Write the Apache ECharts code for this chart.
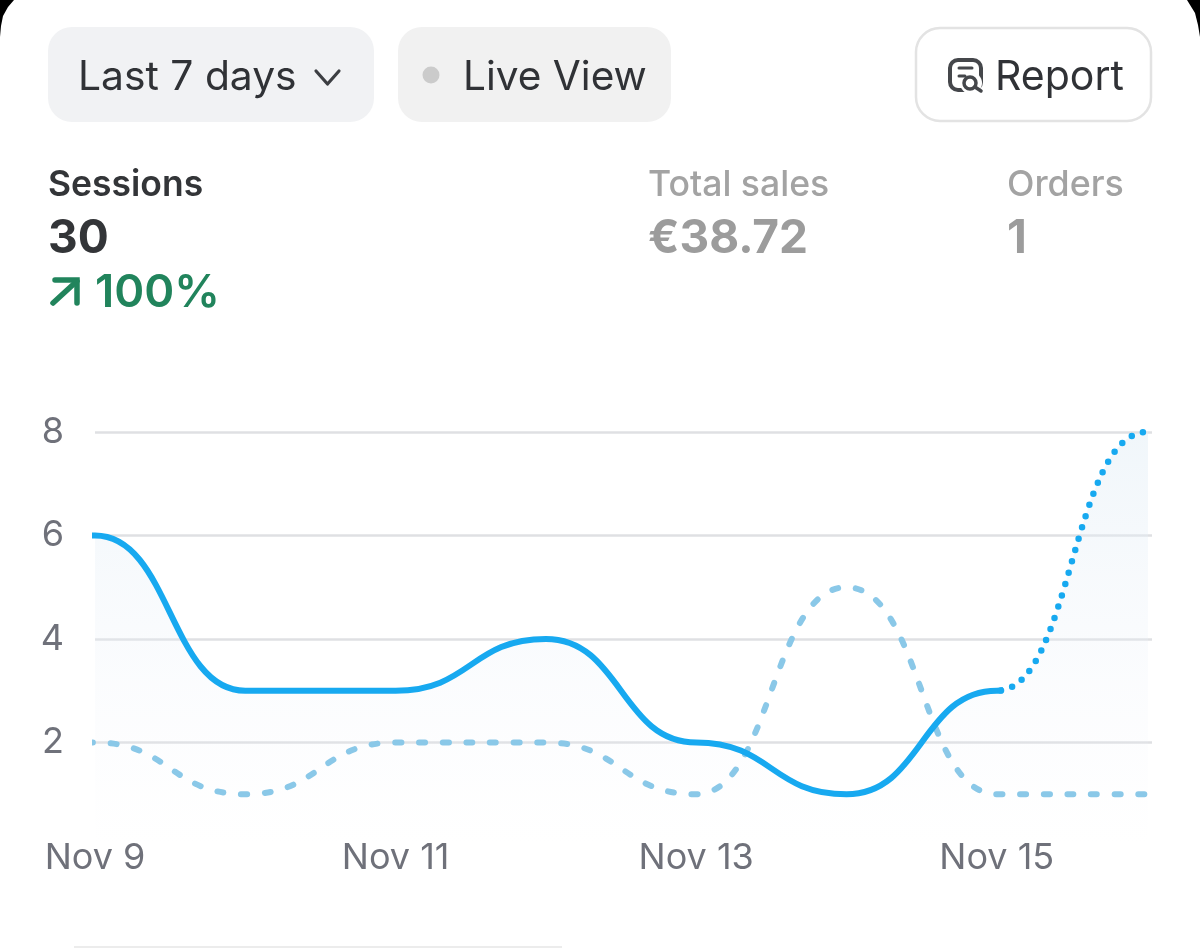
<!DOCTYPE html>
<html>
<head>
<meta charset="utf-8">
<style>html,body{margin:0;padding:0;background:#fff}#c{width:1200px;height:948px}</style>
<script src="https://cdn.jsdelivr.net/npm/echarts@6/dist/echarts.min.js"></script>
</head>
<body>
<div id="c"></div>
<script>
const dayLabels = ['Nov 9','Nov 10','Nov 11','Nov 12','Nov 13','Nov 14','Nov 15','Nov 16'];
const sessions = [6,3,3,4,2,1,3,8];
const previous = [2,1,2,2,1,5,1,1];
const yTicks = [0,2,4,6,8];
const lastCompleteDay = 6;

const FONT = 'Inter';
// The end values are repeated just outside the clipped axis range so the curve leaves and reaches them flat.
const toPairs = arr => [[-1,arr[0]]].concat(arr.map((v,i)=>[i,v]),[[arr.length,arr[arr.length-1]]]);
const areaFill = {
  color:{type:'linear',x:0,y:0,x2:0,y2:1,colorStops:[
    {offset:0,color:'rgba(226,238,246,0.5)'},
    {offset:1,color:'rgba(240,242,250,0)'}]},
  opacity:1
};
function txt(x,y,text,size,weight,fill){
  return {type:'text',x:x,y:y,z:10,
    style:{text:text,fontFamily:FONT,fontSize:size,fontWeight:weight,fill:fill,textVerticalAlign:'middle',textAlign:'left'}};
}
function box(x,y,w,h,r,fill,stroke,lw){
  return {type:'rect',z:5,shape:{x:x,y:y,width:w,height:h,r:r},
    style:{fill:fill,stroke:stroke||null,lineWidth:lw||0}};
}
const ui = [
  {type:'polygon',z:20,shape:{points:[[0,0],[14,0],[8,7],[3,16],[1,26],[0,37]]},style:{fill:'#000'}},
  {type:'polygon',z:20,shape:{points:[[1187,0],[1200,0],[1200,37],[1198,25],[1195,13]]},style:{fill:'#000'}},
  box(48,27,326,95,24,'#f1f2f4'),
  box(398,27,273,95,24,'#f1f1f1'),
  box(916,28,235,93,24,'#fff','#e3e3e3',2.5),
  txt(78,78,'Last 7 days',40.8,400,'#303236'),
  {type:'polyline',z:10,shape:{points:[[316,71],[327.5,84],[339,71]]},style:{fill:null,stroke:'#3c3e42',lineWidth:3.2,lineCap:'round',lineJoin:'round'}},
  {type:'circle',z:10,shape:{cx:431,cy:75,r:8.5},style:{fill:'#cbcbcb'}},
  txt(463,78,'Live View',40.6,400,'#303236'),
  {type:'rect',z:10,shape:{x:950,y:60,width:31,height:30,r:8},style:{fill:null,stroke:'#45474b',lineWidth:4}},
  {type:'circle',z:11,shape:{cx:971,cy:83,r:11},style:{fill:'#fff'}},
  {type:'circle',z:12,shape:{cx:970,cy:83,r:6},style:{fill:'#fff',stroke:'#45474b',lineWidth:3.5}},
  {type:'line',z:12,shape:{x1:975,y1:87,x2:981,y2:91},style:{stroke:'#45474b',lineWidth:3.5,lineCap:'round'}},
  {type:'line',z:12,shape:{x1:959,y1:68,x2:972,y2:68},style:{stroke:'#45474b',lineWidth:3,lineCap:'round'}},
  {type:'line',z:12,shape:{x1:959,y1:76,x2:965,y2:76},style:{stroke:'#45474b',lineWidth:3,lineCap:'round'}},
  txt(995,78,'Report',41,400,'#303236'),
  txt(48,185,'Sessions',35.5,600,'#333538'),
  txt(48,239,'30',46,700,'#333538'),
  {type:'polyline',z:10,shape:{points:[[53,303],[77,281]]},style:{fill:null,stroke:'#21845c',lineWidth:5.5,lineCap:'round'}},
  {type:'polyline',z:10,shape:{points:[[55,280],[77,280],[77,303]]},style:{fill:null,stroke:'#21845c',lineWidth:5.5,lineCap:'round',lineJoin:'miter'}},
  txt(95,293,'100%',45.5,600,'#21845c'),
  txt(648,185,'Total sales',35.6,500,'#a3a3a3'),
  txt(648,239,'€38.72',46,700,'#9c9c9c'),
  txt(1007,185,'Orders',35.8,500,'#a3a3a3'),
  txt(1007,239,'1',46,700,'#9c9c9c'),
  box(74,946,488,3,0,'#ececec')
];

const UNIT = 150.3, LEFT = 95, RIGHT = 48, TOP = 432, BOTTOM = 948-846;
const xMaxAll = (1200-RIGHT-LEFT)/UNIT;
const splitAt = lastCompleteDay + 0.02;
const rightOfLast = 1200-(LEFT+7*UNIT);
const hiddenY = i => ({gridIndex:i,type:'value',min:0,max:8,interval:2,show:false,splitLine:{show:false}});
const hiddenX = (i,a,b) => ({gridIndex:i,type:'value',min:a,max:b,show:false,splitLine:{show:false}});

const option = {
  animation:false,
  backgroundColor:'#fff',
  textStyle:{fontFamily:FONT},
  graphic:{elements:ui},
  grid:[
    {left:LEFT,right:RIGHT,top:TOP,bottom:BOTTOM},
    {left:LEFT,width:splitAt*UNIT,top:TOP,bottom:BOTTOM},
    {left:LEFT+splitAt*UNIT,right:rightOfLast,top:TOP,bottom:BOTTOM},
    {left:LEFT,right:rightOfLast,top:TOP,bottom:BOTTOM}
  ],
  xAxis:[
    {gridIndex:0,type:'value',min:0,max:xMaxAll,interval:2,
      axisLine:{show:false},axisTick:{show:false},splitLine:{show:false},
      axisLabel:{showMaxLabel:false,margin:-6,fontFamily:FONT,fontSize:36,color:'#6f717a',
        formatter:v=>Number.isInteger(v)?dayLabels[v]:''}},
    hiddenX(1,0,splitAt),
    hiddenX(2,splitAt,7),
    hiddenX(3,0,7)
  ],
  yAxis:[
    {gridIndex:0,type:'value',min:yTicks[0],max:yTicks[yTicks.length-1],interval:2,
      axisLine:{show:false},axisTick:{show:false},
      axisLabel:{showMinLabel:false,margin:31,fontFamily:FONT,fontSize:36,color:'#6f717a'},
      splitLine:{show:true,showMinLine:false,lineStyle:{color:'#dfe0e3',width:2.5}}},
    hiddenY(1),hiddenY(2),hiddenY(3)
  ],
  series:[
    {name:'Sessions area',type:'line',xAxisIndex:3,yAxisIndex:3,data:toPairs(sessions),
      smooth:0.5,smoothMonotone:'x',showSymbol:false,z:2,
      lineStyle:{width:0},areaStyle:areaFill},
    {name:'Previous period',type:'line',xAxisIndex:3,yAxisIndex:3,data:toPairs(previous),
      smooth:0.5,smoothMonotone:'x',showSymbol:false,z:3,
      lineStyle:{color:'#8ac8e8',width:6,type:[6,17.7],cap:'round'}},
    {name:'Sessions',type:'line',xAxisIndex:1,yAxisIndex:1,data:toPairs(sessions),
      smooth:0.5,smoothMonotone:'x',showSymbol:false,z:4,
      lineStyle:{color:'#17a9f0',width:6,cap:'round',join:'round'}},
    {name:'Sessions (in progress)',type:'line',xAxisIndex:2,yAxisIndex:2,data:toPairs(sessions),
      smooth:0.5,smoothMonotone:'x',showSymbol:false,z:4,
      lineStyle:{color:'#17a9f0',width:6.5,type:[0,11.8],cap:'round'}}
  ]
};
echarts.init(document.getElementById('c'),null,{renderer:'canvas'}).setOption(option);
</script>
</body>
</html>
